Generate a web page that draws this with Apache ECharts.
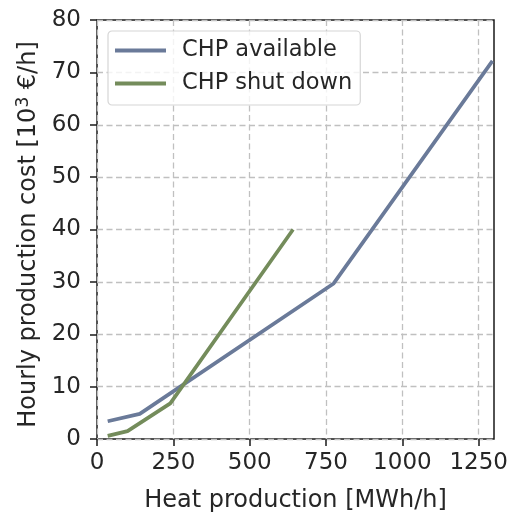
<!DOCTYPE html>
<html>
<head>
<meta charset="utf-8">
<script src="https://cdn.jsdelivr.net/npm/echarts@6/dist/echarts.min.js"></script>
<style>html,body{margin:0;padding:0;background:#fff}#c{width:514px;height:514px}</style>
</head>
<body>
<div id="c"></div>
<script>
// Data
const seriesNames = ['CHP available', 'CHP shut down'];
const availX = [35, 140, 775, 1295];
const availY = [3.4, 4.8, 29.7, 72.2];
const shutX = [35, 100, 240, 642];
const shutY = [0.6, 1.5, 6.8, 40.0];
const xTicks = [0, 250, 500, 750, 1000, 1250];
const yTicks = [0, 10, 20, 30, 40, 50, 60, 70, 80];

const FONT = 'DejaVu Sans';
const TXT = '#262626';
const FS = 23;
const NFS = 24;
const zip = (xs, ys) => xs.map((x, i) => [x, ys[i]]);

const chart = echarts.init(document.getElementById('c'), null, {renderer: 'canvas'});
chart.setOption({
  animation: false,
  backgroundColor: '#ffffff',
  textStyle: {fontFamily: FONT},
  grid: {left: 97, right: 20, top: 20, bottom: 75, containLabel: false, outerBoundsMode: 'none',
         show: true, borderColor: '#1a1a1a', borderWidth: 1.5, backgroundColor: 'transparent'},
  legend: {
    orient: 'vertical', left: 108, top: 31,
    data: seriesNames,
    icon: 'rect', itemWidth: 51, itemHeight: 4, itemGap: 10,
    backgroundColor: 'rgba(255,255,255,0.8)', borderColor: '#d6d6d6', borderWidth: 1.2, borderRadius: 4,
    padding: [8, 8, 10, 7],
    textStyle: {fontFamily: FONT, fontSize: 22.5, color: TXT, padding: [0, 0, 0, 11]}
  },
  xAxis: {
    type: 'value', min: 0, max: 1300, interval: 250,
    name: 'Heat production [MWh/h]', nameLocation: 'middle', nameGap: 50,
    nameTextStyle: {fontFamily: FONT, fontSize: NFS, color: TXT},
    axisLine: {show: false},
    axisTick: {show: true, inside: false, length: 7, lineStyle: {color: '#1a1a1a', width: 1.5}, customValues: xTicks},
    axisLabel: {fontFamily: FONT, fontSize: FS, color: TXT, margin: 13, customValues: xTicks, formatter: v => String(v)},
    splitLine: {show: true, lineStyle: {color: '#c0c0c0', width: 1.3, type: [6, 3.5]}}
  },
  yAxis: {
    type: 'value', min: 0, max: 80, interval: 10,
    name: '{a|Hourly production cost [10}{s|3}{a| €/h]}', nameLocation: 'middle', nameGap: 53,
    nameTextStyle: {fontFamily: FONT, fontSize: NFS, color: TXT, padding: [0, 10, 0, 0],
      rich: {a: {fontFamily: FONT, fontSize: NFS, color: TXT}, s: {fontFamily: FONT, fontSize: 17, color: TXT, padding: [0, 0, 10, 0]}}},
    axisLine: {show: false},
    axisTick: {show: true, inside: false, length: 7, lineStyle: {color: '#1a1a1a', width: 1.5}, customValues: yTicks},
    axisLabel: {fontFamily: FONT, fontSize: FS, color: TXT, margin: 16, customValues: yTicks, formatter: v => String(v)},
    splitLine: {show: true, lineStyle: {color: '#c0c0c0', width: 1.3, type: [6, 3.5]}}
  },
  series: [
    {name: seriesNames[0], type: 'line', data: zip(availX, availY), showSymbol: false, symbol: 'none',
     lineStyle: {color: '#6a7a99', width: 3.7}, itemStyle: {color: '#6a7a99'}},
    {name: seriesNames[1], type: 'line', data: zip(shutX, shutY), showSymbol: false, symbol: 'none',
     lineStyle: {color: '#748c5b', width: 3.7}, itemStyle: {color: '#748c5b'}}
  ]
});
</script>
</body>
</html>
